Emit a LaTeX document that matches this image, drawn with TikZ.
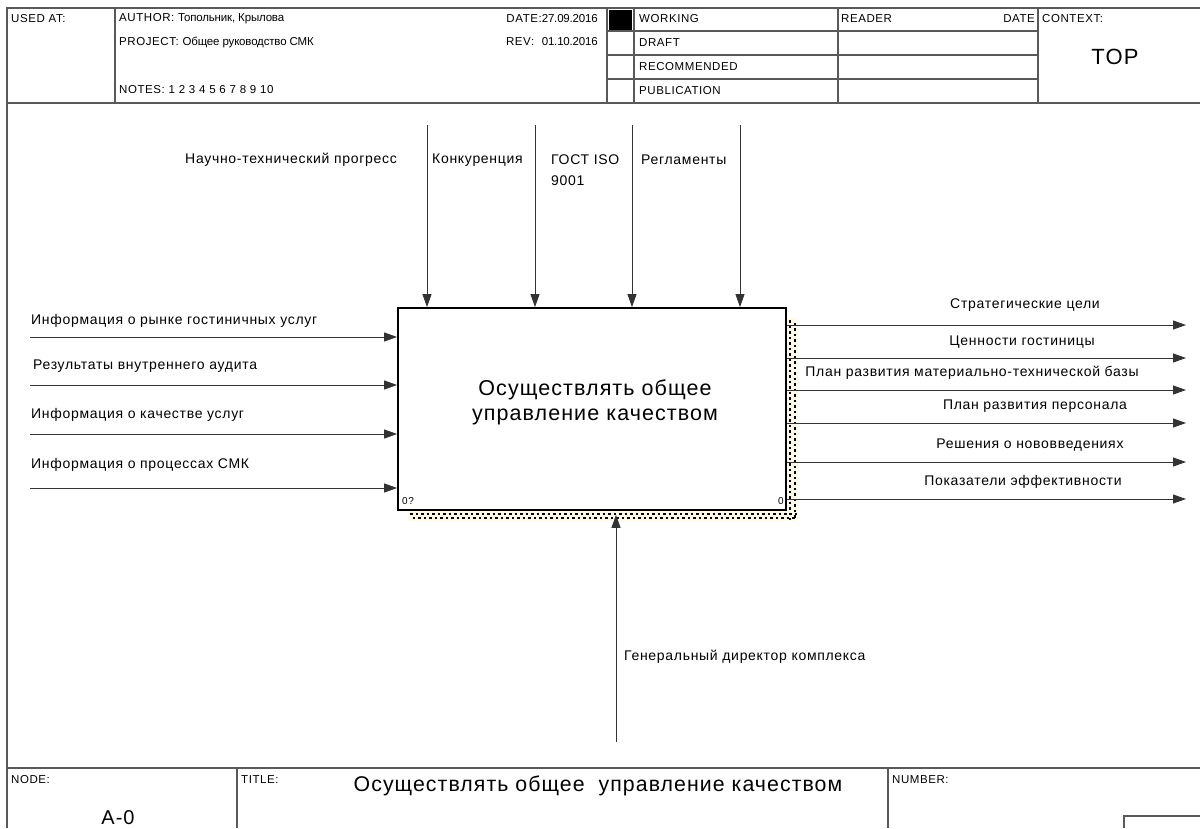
\documentclass[tikz,border=0pt]{standalone}
\usepackage{fontspec}
\setmainfont{Liberation Sans}[LetterSpace=5]
\usetikzlibrary{arrows.meta}
\definecolor{shadowc}{RGB}{255,250,232}
\newcommand{\narrowtxt}[1]{{\fontsize{11.5}{13}\selectfont\addfontfeature{LetterSpace=-1.5}#1}}
\begin{document}
\begin{tikzpicture}[x=1pt,y=-1pt,
  frame/.style={draw=black!65,line width=1.2pt},
  arr/.style={draw=black!80,line width=0.9pt,-{Triangle[length=13pt,width=9pt]}},
  lbl/.style={font=\fontsize{14}{21}\selectfont,inner sep=0pt},
  hdr/.style={font=\fontsize{11.5}{13}\selectfont,inner sep=0pt},
  small/.style={font=\fontsize{10}{11}\selectfont},
  hatch/.style={draw=black,line width=1.8pt,dash pattern=on 2.5pt off 3pt},
  procbox/.style={draw=black,line width=1.8pt,fill=white,inner sep=0pt,
    minimum width=388pt,minimum height=202pt}]
\fill[white] (0,0) rectangle (1200,828);
\useasboundingbox (0,0) rectangle (1200,828);

% ---------- frame ----------
\draw[frame] (1200,8) -- (7,8) -- (7,828);
\draw[frame] (7,103) -- (1200,103);
\draw[frame] (115,8) -- (115,103);
\draw[frame] (607,8) -- (607,103);
\draw[frame] (634,8) -- (634,103);
\draw[frame] (838,8) -- (838,103);
\draw[frame] (1038,8) -- (1038,103);
\draw[frame] (607,31) -- (1038,31);
\draw[frame] (607,55) -- (1038,55);
\draw[frame] (607,79) -- (1038,79);
\fill[black] (609,10) rectangle (632,30);
\draw[frame] (7,768) -- (1200,768);
\draw[frame] (237,768) -- (237,828);
\draw[frame] (888,768) -- (888,828);
\draw[frame] (1124,828) -- (1124,816) -- (1200,816);

% ---------- header texts ----------
\node[hdr,anchor=west] (usedat) at (11,19) {USED AT:};
\node[hdr,anchor=west] (author) at (119,19) {AUTHOR: \narrowtxt{Топольник, Крылова}};
\node[hdr,anchor=west] (project) at (119,42) {PROJECT: \narrowtxt{Общее руководство СМК}};
\node[hdr,anchor=west] (notes) at (119,90) {NOTES: 1 2 3 4 5 6 7 8 9 10};
\node[hdr,anchor=east] (date) at (598,19) {DATE:\narrowtxt{27.09.2016}};
\node[hdr,anchor=east] (rev) at (598,42) {REV: \ \narrowtxt{01.10.2016}};
\node[hdr,anchor=west] (working) at (639,19) {WORKING};
\node[hdr,anchor=west] (draft) at (639,43) {DRAFT};
\node[hdr,anchor=west] (recom) at (639,67) {RECOMMENDED};
\node[hdr,anchor=west] (public) at (639,91) {PUBLICATION};
\node[hdr,anchor=west] (reader) at (841,19) {READER};
\node[hdr,anchor=east] (rdate) at (1035,19) {DATE};
\node[hdr,anchor=west] (context) at (1042,19) {CONTEXT:};
\node[font=\fontsize{22}{24}\selectfont,inner sep=0pt] (top) at (1115,57) {TOP};

% ---------- process box with shadow ----------
\fill[shadowc] (787,318) rectangle (798,521);
\fill[shadowc] (408,511) rectangle (798,521);
\draw[hatch] (790,320) -- (790,520);
\draw[hatch,dash phase=2.7pt] (795,320) -- (795,520);
\draw[hatch] (410,514) -- (797,514);
\draw[hatch,dash phase=2.7pt] (410,518) -- (797,518);
\node[procbox] (box) at (592,409) {};
\node[font=\fontsize{21.5}{25}\selectfont,align=center,inner sep=0pt] (boxtxt) at (595,402)
  {Осуществлять общее\\управление качеством};
\node[small,anchor=west,inner sep=0pt] (num1) at (402,501) {0?};
\node[small,anchor=east,inner sep=0pt] (num2) at (784,501) {0};

% ---------- controls ----------
\coordinate (t1) at (427,125);
\coordinate (t2) at (535,125);
\coordinate (t3) at (632,125);
\coordinate (t4) at (740,125);
\foreach \c in {t1,t2,t3,t4} \draw[arr] (\c) -- (\c |- box.north);
\node[lbl,anchor=east] (lntp) at (397,160) {Научно-технический прогресс};
\node[lbl,anchor=west] (lkonk) at (432,160) {Конкуренция};
\node[lbl,anchor=north west,align=left] (lgost) at (551,155) {ГОСТ ISO\\9001};
\node[lbl,anchor=west] (lregl) at (641,160) {Регламенты};

% ---------- inputs ----------
\coordinate (i1) at (30,337);
\coordinate (i2) at (30,385);
\coordinate (i3) at (30,434);
\coordinate (i4) at (30,488);
\foreach \c in {i1,i2,i3,i4} \draw[arr] (\c) -- (\c -| box.west);
\node[lbl,anchor=west] (li1) at (31,321) {Информация о рынке гостиничных услуг};
\node[lbl,anchor=west] (li2) at (33,366) {Результаты внутреннего аудита};
\node[lbl,anchor=west] (li3) at (31,415) {Информация о качестве услуг};
\node[lbl,anchor=west] (li4) at (31,465) {Информация о процессах СМК};

% ---------- outputs ----------
\coordinate (o1) at (1186,325);
\coordinate (o2) at (1186,358);
\coordinate (o3) at (1186,390);
\coordinate (o4) at (1186,423);
\coordinate (o5) at (1186,462);
\coordinate (o6) at (1186,499);
\foreach \c in {o1,o2,o3,o4,o5,o6} \draw[arr] (box.east |- \c) -- (\c);
\node[lbl] (lo1) at (1025,305) {Стратегические цели};
\node[lbl] (lo2) at (1022,342) {Ценности гостиницы};
\node[lbl] (lo3) at (972,373) {План развития материально-технической базы};
\node[lbl] (lo4) at (1035,406) {План развития персонала};
\node[lbl] (lo5) at (1030,445) {Решения о нововведениях};
\node[lbl] (lo6) at (1023,482) {Показатели эффективности};

% ---------- mechanism ----------
\coordinate (m1) at (616,742);
\draw[arr] (m1) -- ([yshift=-4pt]m1 |- box.south);
\node[lbl,anchor=west] (lm1) at (624,657) {Генеральный директор комплекса};

% ---------- footer ----------
\node[hdr,anchor=west] (nodelbl) at (11,780) {NODE:};
\node[font=\fontsize{20}{22}\selectfont,inner sep=0pt] (nodeval) at (118,818) {A-0};
\node[hdr,anchor=west] (titlelbl) at (241,780) {TITLE:};
\node[font=\fontsize{21.3}{24}\selectfont,inner sep=0pt] (title) at (598,786) {Осуществлять общее\ \ управление качеством};
\node[hdr,anchor=west] (numlbl) at (892,780) {NUMBER:};
\end{tikzpicture}
\end{document}
